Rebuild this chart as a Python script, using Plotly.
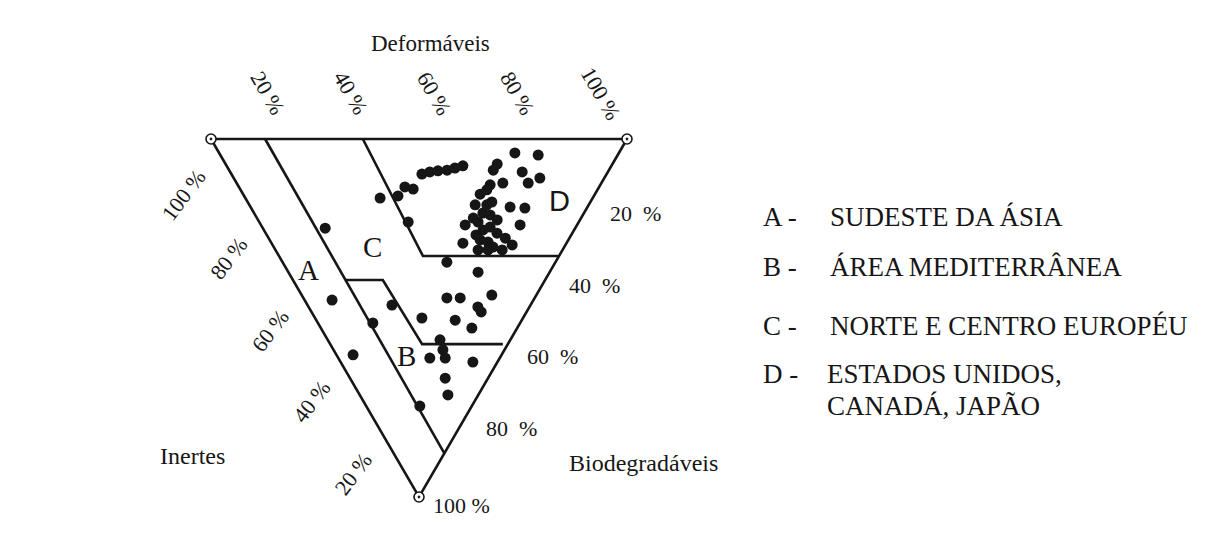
import plotly.graph_objects as go

# page body has an 8 px margin, so the figure is drawn 8 px in from the window corner
OFF = 8
WIN_W, WIN_H = 1219, 542
W, H = WIN_W - OFF, WIN_H - OFF

# ---- data: composition of the samples (ternary, %) ----
# Deformáveis (%) and Biodegradáveis (%); Inertes = 100 - both
deform = [32.4, 37.0, 39.9, 41.6, 45.8, 48.0, 50.1, 52.4, 54.6, 56.8, 35.8,
          71.1, 76.4, 70.2, 63.5, 65.3, 73.6, 70.1, 64.0, 57.0, 58.7, 62.4,
          65.8, 55.0, 57.5, 62.3, 49.1, 52.7, 55.6, 50.6, 46.0, 52.7, 57.6,
          54.5, 51.1, 48.7, 60.7, 57.1, 54.8, 52.6, 56.9,
          59.2, 54.3, 56.5, 50.3, 52.2, 52.0,
          39.5, 45.6, 34.5, 37.7, 45.7, 40.7, 40.8, 25.7, 33.4, 36.3, 27.0,
          26.3, 25.7, 22.0, 31.8, 22.9, 21.2, 12.9, 20.3, 13.2, 6.6, 4.0, 15.0]
biodeg = [16.5, 15.9, 13.4, 14.0, 9.8, 9.2, 8.9, 8.7, 8.1, 7.5, 23.2,
          3.9, 4.5, 9.2, 8.7, 7.0, 10.9, 12.3, 12.3, 15.4, 17.6, 19.0,
          19.3, 20.7, 22.6, 24.0, 24.0, 25.4, 26.3, 28.2, 29.1, 30.2, 29.6,
          31.0, 31.0, 31.0, 12.8, 18.4, 24.6, 23.2, 27.7,
          14.2, 18.4, 21.2, 26.8, 28.8, 22.1,
          34.4, 37.2, 44.4, 44.4, 43.6, 46.9, 48.3, 50.0, 50.6, 52.8, 56.1,
          58.9, 61.2, 61.2, 62.3, 66.8, 71.5, 74.6, 46.4, 51.4, 45.0, 60.3, 24.9]

# region boundaries (Deformáveis %, Biodegradáveis %)
frame_D = [0, 100, 0, 0]
frame_B = [0, 0, 100, 0]
limA_D = [13.0, 12.2]
limA_B = [0, 87.8]
limB_D = [12.6, 21.6, 22.1, 41.5]
limB_B = [39.4, 39.4, 57.3, 57.3]
limD_D = [36.5, 34.6, 67.1]
limD_B = [0, 32.7, 32.7]
vert_D = [0, 100, 0]
vert_B = [0, 0, 100]

ticks = [20, 40, 60, 80, 100]
tick_text = ["20 %", "40 %", "60 %", "80 %", "100 %"]

regions = ["A", "B", "C", "D"]
region_names = ["SUDESTE DA ÁSIA", "ÁREA MEDITERRÂNEA",
                "NORTE E CENTRO EUROPÉU", "ESTADOS UNIDOS,<br>CANADÁ, JAPÃO"]


def proj(D, B):
    return [d + b / 2 for d, b in zip(D, B)], list(B)


INK = "#161616"
FONT = "Liberation Serif"

# screen geometry of the triangle: top-left corner at (211,139), 4.16 px per % across, 3.58 px per % down
X0, Y0, SX, SY = 211, 139, 4.16, 3.58

fig = go.Figure()


def add_line(D, B):
    x, y = proj(D, B)
    fig.add_trace(go.Scatter(x=x, y=y, mode="lines",
                             line=dict(color=INK, width=2.6),
                             hoverinfo="skip", showlegend=False))


add_line(frame_D, frame_B)
add_line(limA_D, limA_B)
add_line(limB_D, limB_B)
add_line(limD_D, limD_B)

px_, py_ = proj(deform, biodeg)
fig.add_trace(go.Scatter(x=px_, y=py_, mode="markers",
                         marker=dict(color=INK, size=11),
                         showlegend=False))

vx, vy = proj(vert_D, vert_B)
fig.add_trace(go.Scatter(x=vx, y=vy, mode="markers",
                         marker=dict(symbol="circle-dot", color="white", size=10,
                                     line=dict(color=INK, width=1.6)),
                         showlegend=False, hoverinfo="skip"))


def pp(x, y):
    return (x - OFF) / W, 1 - (y - OFF) / H


annotations = []


def txt(text, x, y, size, xanchor="center", angle=0, family=FONT):
    xp, yp = pp(x, y)
    annotations.append(dict(text=text, x=xp, y=yp, xref="paper", yref="paper",
                            showarrow=False, xanchor=xanchor, yanchor="middle",
                            textangle=angle, align="left",
                            font=dict(family=family, size=size, color=INK)))


# tick labels placed at the edge points through the data axes
for t, s in zip(ticks, tick_text):
    # Deformáveis (top edge)
    x, y = proj([t], [0])
    annotations.append(dict(text=s, x=x[0], y=y[0], xref="x", yref="y",
                            showarrow=False, xshift=-26, yshift=46,
                            textangle=60, font=dict(family=FONT, size=22, color=INK)))
    # Inertes (left edge)
    x, y = proj([0], [100 - t])
    annotations.append(dict(text=s, x=x[0], y=y[0], xref="x", yref="y",
                            showarrow=False,
                            xshift=-28 if t == 100 else -24,
                            yshift=-56 if t == 100 else -48,
                            textangle=-53, font=dict(family=FONT, size=22, color=INK)))
    # Biodegradáveis (right edge)
    x, y = proj([100 - t], [t])
    annotations.append(dict(text=s.replace(" ", "&nbsp;&nbsp;") if t < 100 else s,
                            x=x[0], y=y[0], xref="x", yref="y",
                            showarrow=False, xanchor="left",
                            xshift=12 if t == 100 else 23,
                            yshift=-8 if t == 100 else -3,
                            font=dict(family=FONT, size=22, color=INK)))

txt("Deformáveis", 430, 43, 23)
txt("Inertes", 192, 456, 24)
txt("Biodegradáveis", 643, 463, 24)

txt("A", 308, 270, 29)
txt("B", 406, 356, 29)
txt("C", 372, 247, 29)
txt("D", 559, 201, 29, family="Liberation Sans")

rows_y = [217, 267, 326, 374]
for r, name, ry in zip(regions, region_names, rows_y):
    txt(r + " -", 761, ry, 27, xanchor="left")
    if "<br>" in name:
        first, second = name.split("<br>")
        txt(first, 825, ry, 27, xanchor="left")
        txt(second, 825, ry + 32, 27, xanchor="left")
    else:
        txt(name, 828, ry, 27, xanchor="left")

fig.update_layout(
    width=W, height=H,
    margin=dict(l=0, r=0, t=0, b=0),
    paper_bgcolor="white", plot_bgcolor="white",
    xaxis=dict(range=[(OFF - X0) / SX, (WIN_W - X0) / SX], visible=False, fixedrange=True),
    yaxis=dict(range=[(WIN_H - Y0) / SY, (OFF - Y0) / SY], visible=False, fixedrange=True),
    annotations=annotations,
    showlegend=False,
)

fig.write_html("out.html")
